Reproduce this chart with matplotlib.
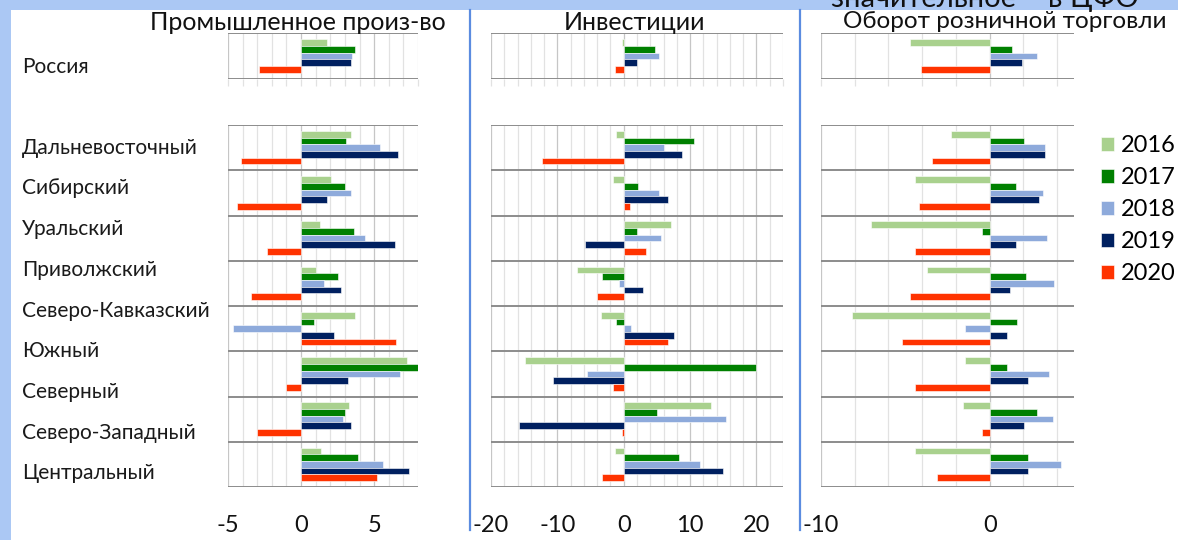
import numpy as np
import matplotlib.pyplot as plt
from matplotlib.patches import Rectangle
from matplotlib.lines import Line2D

# Dane
lata = ['2016', '2017', '2018', '2019', '2020']
kolory = ['#a9d18e', '#008000', '#8eaadb', '#002060', '#ff3300']

okregi = ['Дальневосточный', 'Сибирский', 'Уральский', 'Приволжский',
          'Северо-Кавказский', 'Южный', 'Северо-Западный', 'Центральный']
etykiety = ['Дальневосточный', 'Сибирский', 'Уральский', 'Приволжский',
            'Северо-Кавказский', 'Южный', 'Северный', 'Северо-Западный', 'Центральный']

tytuly = ['Промышленное произ-во', 'Инвестиции', 'Оборот розничной торговли']

# wiersz = okręg, kolumny = lata 2016..2020
prom_rosja = [1.75, 3.7, 3.5, 3.4, -2.9]
prom = [
    [3.4, 3.1, 5.4, 6.6, -4.1],
    [2.05, 3.0, 3.4, 1.8, -4.4],
    [1.3, 3.6, 4.4, 6.4, -2.3],
    [1.0, 2.55, 1.55, 2.75, -3.4],
    [3.7, 0.9, -4.65, 2.25, 6.5],
    [7.25, 8.2, 6.8, 3.2, -1.0],
    [3.3, 3.0, 2.9, 3.4, -3.0],
    [1.35, 3.9, 5.6, 7.4, 5.2],
]

inw_rosja = [-0.3, 4.75, 5.35, 2.0, -1.35]
inw = [
    [-1.15, 10.65, 6.0, 8.75, -12.35],
    [-1.55, 2.2, 5.35, 6.65, 0.9],
    [7.05, 2.0, 5.6, -5.8, 3.3],
    [-7.05, -3.3, -0.75, 2.85, -4.1],
    [-3.5, -1.15, 1.15, 7.5, 6.65],
    [-14.9, 20.0, -5.6, -10.7, -1.55],
    [13.2, 4.95, 15.35, -15.75, -0.3],
    [-1.35, 8.35, 11.5, 14.95, -3.3],
]

handel_rosja = [-4.7, 1.3, 2.8, 1.9, -4.05]
handel = [
    [-2.3, 2.05, 3.3, 3.3, -3.4],
    [-4.45, 1.55, 3.15, 2.9, -4.2],
    [-7.05, -0.45, 3.4, 1.55, -4.4],
    [-3.7, 2.15, 3.8, 1.2, -4.7],
    [-8.15, 1.65, -1.45, 1.05, -5.2],
    [-1.45, 1.05, 3.5, 2.25, -4.4],
    [-1.6, 2.8, 3.75, 2.05, -0.45],
    [-4.4, 2.3, 4.25, 2.3, -3.15],
]

W, H = 1178, 540
czcionka = ['Lato', 'Open Sans', 'DejaVu Sans']
plt.rcParams['font.family'] = czcionka

fig = plt.figure(figsize=(W / 100, H / 100), dpi=100)
fig.patch.set_facecolor('#abc8f4')
fig.add_artist(Rectangle((11 / W, 0), 1, 1 - 10 / H, transform=fig.transFigure,
                         facecolor='white', edgecolor='none', zorder=0))


def osie(x0, x1, y0, y1):
    return fig.add_axes([x0 / W, 1 - y1 / H, (x1 - x0) / W, (y1 - y0) / H])


def rysuj(ax, dane, xlim, krok_min, krok_maj, n, ticki, podpisy):
    y = np.arange(n)
    h = 0.147
    for j in range(5):
        wart = [r[j] for r in dane]
        ax.barh(y + (j - 2) * h, wart, height=h, color=kolory[j],
                edgecolor='white', linewidth=0.4, zorder=3, label=lata[j])
    ax.set_xlim(*xlim)
    ax.set_ylim(n - 0.5, -0.5)
    for v in np.arange(xlim[0], xlim[1] + 0.01, krok_min):
        c = '#c6c6c6' if v % krok_maj == 0 else '#e2e2e2'
        ax.axvline(v, color=c, lw=0.9, zorder=1)
    for b in np.arange(-0.5, n, 1.0):
        ax.axhline(b, color='#8c8c8c', lw=1.4, zorder=2)
    for s in ax.spines.values():
        s.set_visible(False)
    ax.set_yticks([])
    ax.set_xticks(ticki)
    ax.set_xticklabels(podpisy, fontsize=17, color='#111111')
    ax.tick_params(axis='x', length=0, pad=20)
    ax.set_facecolor('none')


panele = [
    (228, 418, (-5, 8), 1, 5, prom_rosja, prom, [-5, 0, 5], ['-5', '0', '5']),
    (491, 783, (-20, 24), 2, 10, inw_rosja, inw, [-20, -10, 0, 10, 20],
     ['-20', '-10', '0', '10', '20']),
    (821, 1074, (-10, 5), 2, 10, handel_rosja, handel, [-10, 0], ['-10', '0']),
]

for x0, x1, xlim, kmin, kmaj, ros, dane, tk, pd in panele:
    ax_r = osie(x0, x1, 33, 79)
    rysuj(ax_r, [ros], xlim, kmin, kmaj, 1, [], [])
    ax_r.set_xticks(np.arange(xlim[0], xlim[1] + 0.01, kmin))
    ax_r.set_xticklabels([])
    ax_r.tick_params(axis='x', length=5, color='#e2e2e2', width=0.9)
    ax_m = osie(x0, x1, 125, 487)
    rysuj(ax_m, dane, xlim, kmin, kmaj, len(okregi), tk, pd)

# separatory paneli
for xs in [469.5, 800.5]:
    fig.add_artist(Line2D([xs / W] * 2, [1 - 10 / H, 1 - 530 / H],
                          color='#5b8ce0', lw=1.6))

# tytuły
for tx, t, fs in zip([298, 634, 1005], tytuly, [18, 18, 17.5]):
    fig.text(tx / W, 1 - 22 / H, t, ha='center', va='center', fontsize=fs,
             color='#111111')

# fragment tekstu ze slajdu nad wykresem (w oryginale widoczna tylko dolna część)
fig.text(985 / W, 1 - 7 / H, 'значительное – в ЦФО', ha='center',
         va='baseline', fontsize=21, color='#111111')

# podpisy okręgów
fig.text(22 / W, 1 - 67 / H, 'Россия', ha='left', va='center', fontsize=15,
         color='#1a1a1a')
for yy, t in zip([148, 188, 229, 270, 311, 351, 392, 433, 473], etykiety):
    fig.text(22 / W, 1 - yy / H, t, ha='left', va='center', fontsize=15,
             color='#1a1a1a')

# legenda
uchwyty, nazwy = ax_m.get_legend_handles_labels()
fig.legend(uchwyty, nazwy, loc='upper left',
           bbox_to_anchor=(1101 / W, 1 - 135 / H), frameon=False, fontsize=17,
           handlelength=0.55, handleheight=0.55, handletextpad=0.3,
           labelspacing=0.47, borderaxespad=0, borderpad=0)

fig.savefig('out.png', dpi=100)
